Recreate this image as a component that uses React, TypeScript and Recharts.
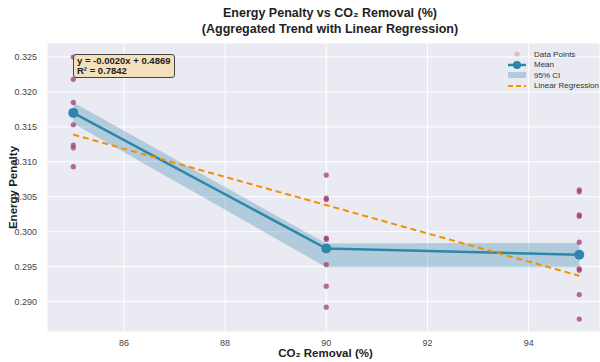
import React from "react";
import {
  ComposedChart,
  Area,
  Line,
  Scatter,
  XAxis,
  YAxis,
  CartesianGrid,
} from "recharts";

// CO2 removal levels (%)
const removalLevels = [85, 90, 95];

// raw energy penalty samples at each removal level
const pointsAt85 = [0.325, 0.3218, 0.3185, 0.3153, 0.3124, 0.312, 0.3093];
const pointsAt90 = [0.3081, 0.3048, 0.3046, 0.2991, 0.2989, 0.2953, 0.2922, 0.2892];
const pointsAt95 = [0.306, 0.3057, 0.3024, 0.3022, 0.2985, 0.2947, 0.2945, 0.291, 0.2875];

// aggregated mean and 95% CI
const meanPenalty = [0.317, 0.2976, 0.2967];
const ciLower = [0.3155, 0.2949, 0.2949];
const ciUpper = [0.3185, 0.2983, 0.2984];

// linear regression fit end points
const fitX = [85, 95];
const fitY = [0.3139, 0.2937];

const xTicks = [86, 88, 90, 92, 94];
const yTicks = [0.29, 0.295, 0.3, 0.305, 0.31, 0.315, 0.32, 0.325];

const BLUE = "#2E86AB";
const PURPLE = "#A23B72";
const ORANGE = "#F18F01";
const FONT = "'Liberation Sans', Arial, Helvetica, sans-serif";

const scatterData = [
  ...pointsAt85.map((y) => ({ x: removalLevels[0], y })),
  ...pointsAt90.map((y) => ({ x: removalLevels[1], y })),
  ...pointsAt95.map((y) => ({ x: removalLevels[2], y })),
];
const meanData = removalLevels.map((x, i) => ({ x, mean: meanPenalty[i] }));
const ciData = removalLevels.map((x, i) => ({ x, ci: [ciLower[i], ciUpper[i]] }));
const fitData = fitX.map((x, i) => ({ x, fit: fitY[i] }));

function XTitle(props: any) {
  const { viewBox } = props;
  return (
    <text
      x={viewBox.x + viewBox.width / 2 + 2}
      y={viewBox.y + 25}
      textAnchor="middle"
      fontFamily={FONT}
      fontWeight="bold"
      fontSize={11.5}
      fill="#222"
    >
      CO₂ Removal (%)
    </text>
  );
}

function YTitle(props: any) {
  const { viewBox } = props;
  const cx = 17;
  const cy = viewBox.y + viewBox.height / 2;
  return (
    <text
      x={cx}
      y={cy}
      transform={`rotate(-90 ${cx} ${cy})`}
      textAnchor="middle"
      fontFamily={FONT}
      fontWeight="bold"
      fontSize={11.5}
      fill="#222"
    >
      Energy Penalty
    </text>
  );
}

const dot = (p: any) => (
  <circle cx={p.cx} cy={p.cy} r={2.6} fill={PURPLE} fillOpacity={0.75} />
);

function LegendRow({ marker, label }: { marker: React.ReactNode; label: string }) {
  return (
    <div style={{ display: "flex", alignItems: "center", height: 10.5, whiteSpace: "nowrap" }}>
      <svg width={18} height={10} style={{ marginRight: 8, flex: "none" }}>
        {marker}
      </svg>
      <span>{label}</span>
    </div>
  );
}

export default function App() {
  return (
    <div style={{ position: "absolute", left: 0, top: 0, width: 600, height: 362, background: "#fff", overflow: "hidden" }}>
      <div
        style={{
          position: "absolute",
          left: 30,
          top: 5,
          width: 600,
          textAlign: "center",
          fontFamily: FONT,
          fontWeight: "bold",
          fontSize: 12.5,
          lineHeight: "16px",
          color: "#222",
        }}
      >
        Energy Penalty vs CO₂ Removal (%)
        <br />
        (Aggregated Trend with Linear Regression)
      </div>
      <ComposedChart
        width={600}
        height={362}
        margin={{ top: 43, right: 0, bottom: 0, left: 7 }}
      >
        <CartesianGrid fill="#EAEAF2" stroke="#fff" strokeWidth={1} />
        <XAxis
          type="number"
          dataKey="x"
          domain={[84.48, 95.41]}
          ticks={xTicks}
          allowDataOverflow
          axisLine={false}
          tickLine={false}
          height={30}
          tick={{ fontSize: 9, fill: "#444", fontFamily: FONT }}
          tickMargin={2}
          label={<XTitle />}
        />
        <YAxis
          type="number"
          domain={[0.28565, 0.327]}
          ticks={yTicks}
          allowDataOverflow
          axisLine={false}
          tickLine={false}
          width={40}
          tick={{ fontSize: 9, fill: "#444", fontFamily: FONT }}
          tickMargin={4}
          tickFormatter={(v: number) => v.toFixed(3)}
          label={<YTitle />}
        />
        <Scatter data={scatterData} dataKey="y" shape={dot} isAnimationActive={false} />
        <Area
          data={ciData}
          dataKey="ci"
          type="linear"
          fill={BLUE}
          fillOpacity={0.3}
          stroke="none"
          isAnimationActive={false}
        />
        <Line
          data={meanData}
          dataKey="mean"
          type="linear"
          stroke={BLUE}
          strokeWidth={2.5}
          dot={{ r: 5, fill: BLUE, stroke: BLUE, strokeWidth: 0 }}
          isAnimationActive={false}
        />
        <Line
          data={fitData}
          dataKey="fit"
          type="linear"
          stroke={ORANGE}
          strokeWidth={2}
          strokeDasharray="6 4"
          dot={false}
          isAnimationActive={false}
        />
      </ComposedChart>
      <div
        style={{
          position: "absolute",
          left: 73,
          top: 54,
          padding: "1px 3px",
          background: "rgba(245,222,179,0.85)",
          border: "1px solid #444",
          borderRadius: 3,
          fontFamily: FONT,
          fontWeight: "bold",
          fontSize: 9.5,
          lineHeight: "10px",
          color: "#222",
          whiteSpace: "nowrap",
        }}
      >
        y = -0.0020x + 0.4869
        <br />
        R² = 0.7842
      </div>
      <div
        style={{
          position: "absolute",
          left: 508,
          top: 49,
          fontFamily: FONT,
          fontSize: 8,
          color: "#333",
        }}
      >
        <LegendRow marker={<circle cx={9} cy={5} r={2.6} fill={PURPLE} fillOpacity={0.25} />} label="Data Points" />
        <LegendRow
          marker={
            <g>
              <line x1={0} y1={5} x2={18} y2={5} stroke={BLUE} strokeWidth={2.5} />
              <circle cx={9} cy={5} r={4} fill={BLUE} />
            </g>
          }
          label="Mean"
        />
        <LegendRow marker={<rect x={0} y={2} width={18} height={6} fill={BLUE} fillOpacity={0.3} />} label="95% CI" />
        <LegendRow
          marker={<line x1={0} y1={5} x2={18} y2={5} stroke={ORANGE} strokeWidth={2} strokeDasharray="5 3" />}
          label="Linear Regression"
        />
      </div>
    </div>
  );
}
